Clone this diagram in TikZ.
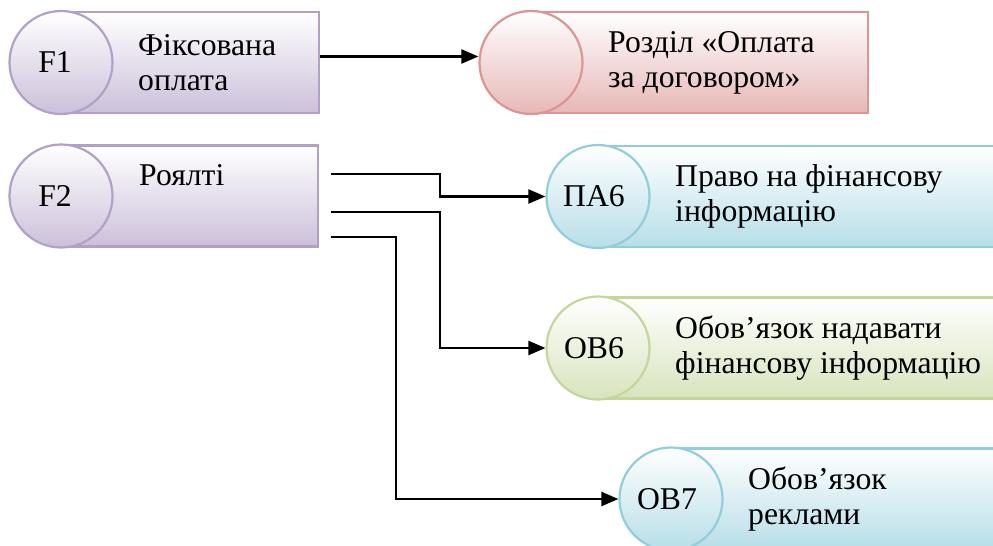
\documentclass[tikz,border=0pt]{standalone}
\usepackage{fontspec}
\setmainfont{Liberation Serif}
\newfontfamily\ukrschrift{Liberation Serif}
\usetikzlibrary{arrows.meta}

\definecolor{lilarand}{RGB}{178,161,199}
\definecolor{lilafill}{RGB}{204,192,218}
\definecolor{rotrand}{RGB}{217,150,148}
\definecolor{rotfill}{RGB}{230,184,183}
\definecolor{blaurand}{RGB}{146,205,220}
\definecolor{blaufill}{RGB}{183,222,232}
\definecolor{gruenrand}{RGB}{195,214,155}
\definecolor{gruenfill}{RGB}{215,228,189}

\tikzset{
	kasten/.style={draw=#1rand, line width=2.2pt, top color=white, bottom color=#1fill,
		minimum height=101pt, inner sep=0pt, anchor=west},
	kreis/.style={circle, draw=#1rand, line width=2.2pt, top color=white, bottom color=#1fill,
		minimum size=103pt, inner sep=0pt},
	schrift/.style={inner sep=0pt, align=left, font=\ukrschrift\fontsize{31.7}{35}\selectfont},
	linie/.style={line width=2.2pt},
	pfeil/.style={linie, -{Triangle[length=17pt,width=14pt]}}
}

\begin{document}
\begin{tikzpicture}[x=1pt,y=-1pt]
	\useasboundingbox (0,0) rectangle (993,546);
	\clip (0,0) rectangle (993,546);
	% Kaesten zeichnen
	\node[kasten=lila, minimum width=257pt] (f1box) at (61,62.5) {};
	\node[kasten=rot, minimum width=336pt] (rzbox) at (531,62.5) {};
	\node[kasten=lila, minimum width=256pt] (f2box) at (61,196) {};
	\node[kasten=blau, minimum width=420pt] (pa6box) at (598,196.5) {};
	\node[kasten=gruen, minimum width=420pt] (ob6box) at (598,348) {};
	\node[kasten=blau, minimum width=340pt] (ob7box) at (671,499) {};
	% Kreise zeichnen
	\node[kreis=lila] (f1) at (f1box.west) {};
	\node[kreis=rot] (rz) at (rzbox.west) {};
	\node[kreis=lila] (f2) at (f2box.west) {};
	\node[kreis=blau] (pa6) at (pa6box.west) {};
	\node[kreis=gruen] (ob6) at (ob6box.west) {};
	\node[kreis=blau] (ob7) at (ob7box.west) {};
	% Kreise beschriften
	\node[schrift] (f1nr) at ([xshift=-6pt]f1.center) {F1};
	\node[schrift] (f2nr) at ([xshift=-6pt]f2.center) {F2};
	\node[schrift] (pa6nr) at ([xshift=-4pt]pa6.center) {ПА6};
	\node[schrift] (ob6nr) at ([xshift=-4pt]ob6.center) {ОВ6};
	\node[schrift] (ob7nr) at ([xshift=-4pt]ob7.center) {ОВ7};
	% Kaesten beschriften
	\node[schrift, anchor=west] (f1txt) at (138,62.5) {Фіксована\\оплата};
	\node[schrift, anchor=west] (rztxt) at (608,62.5) {Розділ «Оплата\\за договором»};
	\node[schrift, anchor=base west] (f2txt) at (139,185) {Роялті};
	\node[schrift, anchor=west] (pa6txt) at (675,196.5) {Право на фінансову\\інформацію};
	\node[schrift, anchor=west] (ob6txt) at (675,348) {Обов’язок надавати\\фінансову інформацію};
	\node[schrift, anchor=west] (ob7txt) at (748,499) {Обов’язок\\реклами};
	% Pfeile zeichnen
	\draw[pfeil] ([yshift=6pt]f1box.east) -- ([yshift=6pt]rz.west);
	\draw[pfeil] ([xshift=12pt,yshift=22pt]f2box.east) -- ++(109,0) |- (pa6.west);
	\draw[pfeil] ([xshift=12pt,yshift=-16pt]f2box.east) -- ++(109,0) |- (ob6.west);
	\draw[pfeil] ([xshift=12pt,yshift=-41pt]f2box.east) -- ++(65,0) |- (ob7.west);
\end{tikzpicture}
\end{document}
